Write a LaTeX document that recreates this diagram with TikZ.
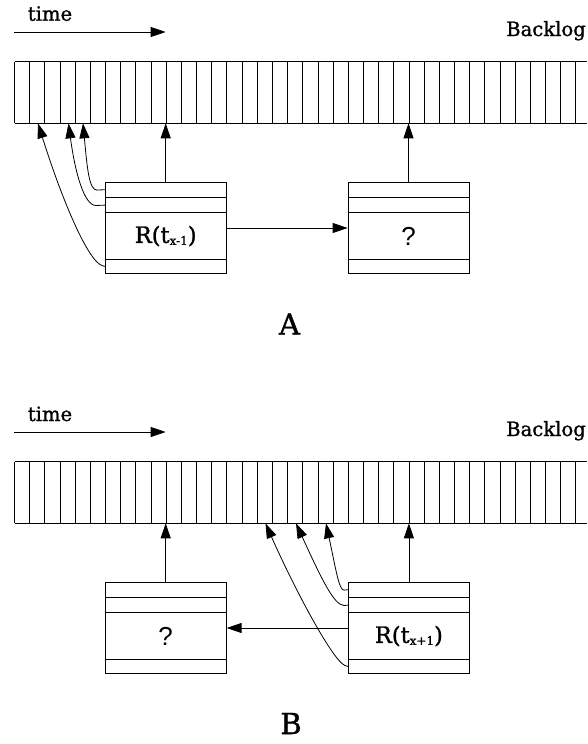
\documentclass[tikz,border=0pt]{standalone}
\usepackage{fontspec}
\setmainfont{DejaVu Serif}[FakeBold=1.2]
\newfontfamily\qfont{Liberation Sans}
\usetikzlibrary{arrows.meta,calc}
\newcommand\tapestrip[1]{%
  \draw[ln] (14.5,#1) -- (587,#1) (14.5,#1+61.6) -- (587,#1+61.6);
  \foreach \k in {0,...,37} \draw[ln] ({14.5+15.17*\k},#1) -- ++(0,61.6);
}
\newcommand\recbox[2]{%
  \node[rec] (#1) at (#2) {};
  \draw[ln] ($(#1.north west)+(0,15.3)$) -- ($(#1.north east)+(0,15.3)$)
            ($(#1.north west)+(0,30.7)$) -- ($(#1.north east)+(0,30.7)$)
            ($(#1.south west)+(0,-15)$) -- ($(#1.south east)+(0,-15)$);
  \coordinate (#1-r1) at ($(#1.north west)+(0,7.6)$);
  \coordinate (#1-r2) at ($(#1.north west)+(0,23)$);
  \coordinate (#1-r4) at ($(#1.south west)+(0,-7.5)$);
  \coordinate (#1-m) at ($(#1.north)+(0,54)$);
}
\begin{document}
\begin{tikzpicture}[x=1pt,y=-1pt,
  ln/.style={line width=0.8pt},
  arr/.style={ln,-{Triangle[length=15pt,width=10pt]}},
  rec/.style={draw,ln,minimum width=121pt,minimum height=91pt,inner sep=0pt},
  lbl/.style={font=\fontsize{19.6}{20}\selectfont,inner sep=0pt},
  big/.style={font=\fontsize{29}{29}\selectfont,inner sep=0pt},
  rlab/.style={font=\fontsize{22.5}{23}\selectfont,inner sep=0pt},
  qlab/.style={font=\qfont\fontsize{26}{26}\selectfont,inner sep=0pt}]
\useasboundingbox (0,0) rectangle (587,744);

% ---------------- A ----------------
\node[lbl,anchor=base] (timeA) at (50,20.7) {time};
\node[lbl,anchor=base east] (backA) at (586,36) {Backlog};
\coordinate (tsA) at (14,32);
\coordinate (teA) at (165.7,32);
\draw[arr] (tsA) -- (teA);
\tapestrip{61.7}
\coordinate (Ab) at (0,123.3);
\coordinate (At1) at (38,123.3);
\coordinate (At2) at (68.5,123.3);
\coordinate (At3) at (83,123.3);
\recbox{A1}{165.7,228}
\recbox{A2}{408.5,228}
\node[rlab] (A1t) at (A1-m) {R(t\raisebox{-2pt}{\fontsize{12}{12}\selectfont x-1})};
\node[qlab] (A2t) at (A2-m) {?};
\draw[arr] (A1.north) -- (A1.north |- Ab);
\draw[arr] (A2.north) -- (A2.north |- Ab);
\draw[arr] (A1.east) -- (A2.west);
\draw[arr] (A1-r1) -- (97,190.1) .. controls (89,190.1) and (87.2,168) .. (At3);
\draw[arr] (A1-r2) -- (96,205.5) .. controls (84,205.5) and (75,172) .. (At2);
\draw[arr] (A1-r4) -- (102,265.5) .. controls (88,261) and (62,200) .. (At1);
\node[big] (labA) at (289.5,324) {A};

% ---------------- B ----------------
\node[lbl,anchor=base] (timeB) at (50,421) {time};
\node[lbl,anchor=base east] (backB) at (586,436) {Backlog};
\coordinate (tsB) at (14,432);
\coordinate (teB) at (165.7,432);
\draw[arr] (tsB) -- (teB);
\tapestrip{461.7}
\coordinate (Bb) at (0,523.3);
\coordinate (Bt1) at (265.5,523.3);
\coordinate (Bt2) at (296,523.3);
\coordinate (Bt3) at (326,523.3);
\recbox{B1}{165.7,628}
\recbox{B2}{408.9,628}
\node[qlab] (B1t) at (B1-m) {?};
\node[rlab] (B2t) at (B2-m) {R(t\raisebox{-2pt}{\fontsize{12}{12}\selectfont x+1})};
\draw[arr] (B1.north) -- (B1.north |- Bb);
\draw[arr] (B2.north) -- (B2.north |- Bb);
\draw[arr] (B2.west) -- (B1.east);
\draw[arr] (B2-r1) -- (344,590.1) .. controls (339,590.1) and (336,570) .. (Bt3);
\draw[arr] (B2-r2) -- (344,605.5) .. controls (334,605) and (322,580) .. (Bt2);
\draw[arr] (B2-r4) -- (345,665.5) .. controls (333,661) and (295,590) .. (Bt1);
\node[big] (labB) at (291,723.5) {B};
\end{tikzpicture}
\end{document}
